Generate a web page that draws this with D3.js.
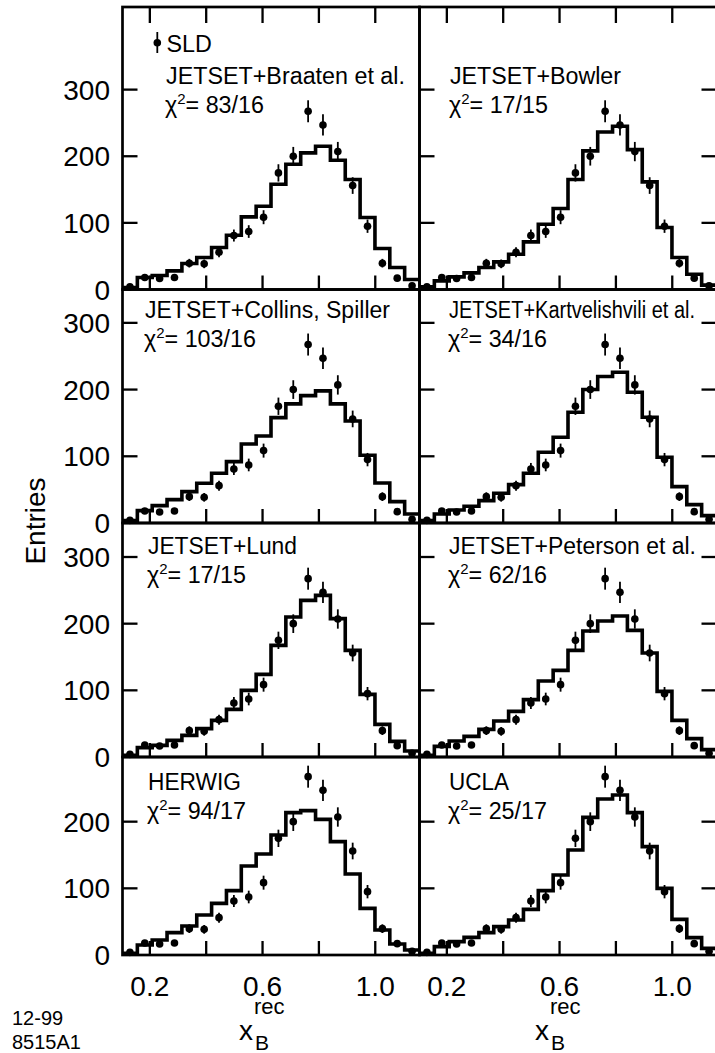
<!DOCTYPE html>
<html><head><meta charset="utf-8">
<script src="https://cdn.jsdelivr.net/npm/d3@7"></script>
<style>body{margin:0;background:#fff}svg{display:block;font-family:"Liberation Sans",Arial,Helvetica,sans-serif}</style>
</head><body><svg id="c" width="715" height="1053"></svg>
<script>
// ---------- data ----------
const binEdges = [0.103, 0.1557, 0.2084, 0.2611, 0.3138, 0.3665, 0.4192, 0.4719, 0.5246, 0.5773, 0.630,
                  0.6827, 0.7354, 0.7881, 0.8408, 0.8935, 0.9462, 0.9989, 1.0516, 1.1043, 1.157];
const sldValues = [4, 18, 16.5, 18, 39.5, 38.5, 56, 81, 87, 108.5, 175, 200, 267.5, 247, 207, 156, 95, 39.5, 17, 5.5];
const sldErrors = [2, 4.5, 4, 4.5, 6.5, 6.5, 7.5, 9, 9.5, 10.5, 13, 14, 16.5, 16, 14.5, 12.5, 10, 6.5, 4, 2.5];

const mcBraaten       = [3, 18, 21, 28, 39, 48, 63, 81.5, 109, 125, 158, 188, 205, 215, 194, 165, 108, 61.5, 33, 15];
const mcBowler        = [4, 13, 19, 25, 33, 41.5, 53, 71.5, 98, 121.5, 165, 208, 236.5, 245, 210, 161.5, 93, 48, 23, 6.5];
const mcCollins       = [3.5, 18.5, 26, 35, 47, 59.5, 74.5, 92, 118.5, 130.5, 158, 178.5, 191, 198, 178.5, 153, 101.5, 60, 32, 13.5];
const mcKartvelishvili= [3.5, 13.5, 19.5, 25, 33.5, 44.5, 57.5, 74.5, 106, 128.5, 166, 200, 219.5, 226, 196, 158.5, 98.5, 54.5, 27.5, 11];
const mcLund          = [2.5, 14, 17.5, 25, 32.5, 42.5, 55, 71.5, 100, 124, 167.5, 210, 235, 242.5, 207.5, 160, 94, 49, 23.5, 9];
const mcPeterson      = [2.5, 16, 24, 31, 41.5, 54, 68.5, 86, 114, 130, 160, 189, 204, 211.5, 190, 156, 98.5, 55, 27.5, 11];
const mcHerwig        = [2.5, 15, 22.5, 33.5, 43.5, 60, 77.5, 96.5, 133.5, 151.5, 180, 213.5, 216.5, 203.5, 170, 121.5, 70, 37.5, 16.5, 7.5];
const mcUcla          = [2.5, 12.5, 20, 26.5, 33.5, 42.5, 52.5, 68.5, 96.5, 120, 157.5, 206.5, 234, 240, 213.5, 162.5, 100, 53.5, 26, 10];

const modelNames = ["JETSET+Braaten et al.", "JETSET+Bowler", "JETSET+Collins, Spiller", "JETSET+Kartvelishvili et al.",
                    "JETSET+Lund", "JETSET+Peterson et al.", "HERWIG", "UCLA"];
const chi2Values = ["83/16", "17/15", "103/16", "34/16", "17/15", "62/16", "94/17", "25/17"];
const mcSeries = [mcBraaten, mcBowler, mcCollins, mcKartvelishvili, mcLund, mcPeterson, mcHerwig, mcUcla];

const xTicks = [0.2, 0.4, 0.6, 0.8, 1.0];
const xTickLabels = [0.2, 0.6, 1.0];
const yTicks = [100, 200, 300];
const yTickLabels = [0, 100, 200, 300];
const rowYMax = [424, 350, 351, 297];

// ---------- layout ----------
const colX = [[122.5, 419.5], [419.5, 716.5]];
const rowY = [[289.5, 7], [523, 289.5], [757, 523], [955, 757]];
const labelX = [[166, 145, 148, 148], [450, 449, 449, 449]];
const labelY = [84, 318, 554, 790];
const labelWidth = [239, 171, 245, 246, 149, 247, 93, 60];
const lineGap = 29;
const FW = 2.7;

const svg = d3.select("#c");

function panel(i) {
  const col = i % 2, row = Math.floor(i / 2);
  const x = d3.scaleLinear().domain([binEdges[0], binEdges[binEdges.length - 1]]).range(colX[col]);
  const y = d3.scaleLinear().domain([0, rowYMax[row]]).range(rowY[row]);
  const g = svg.append("g");
  const [x0, x1] = colX[col];
  const [yb, yt] = rowY[row];

  g.append("rect").attr("x", x0).attr("y", yt).attr("width", x1 - x0).attr("height", yb - yt)
    .attr("fill", "none").attr("stroke", "#000").attr("stroke-width", FW);

  g.selectAll(".xt").data(xTicks).enter().append("line")
    .attr("x1", d => x(d)).attr("x2", d => x(d)).attr("y1", yb).attr("y2", yb - 14)
    .attr("stroke", "#000").attr("stroke-width", 2.3);
  if (row === 0) {
    g.selectAll(".xtt").data(xTicks).enter().append("line")
      .attr("x1", d => x(d)).attr("x2", d => x(d)).attr("y1", yt).attr("y2", yt + 16)
      .attr("stroke", "#000").attr("stroke-width", 2.3);
  }
  const ytk = yTicks.filter(t => t < rowYMax[row] - 2);
  g.selectAll(".yt").data(ytk).enter().append("line")
    .attr("x1", x0).attr("x2", x0 + 15).attr("y1", d => y(d)).attr("y2", d => y(d))
    .attr("stroke", "#000").attr("stroke-width", 2.3);
  if (col === 1) {
    g.selectAll(".ytr").data(ytk).enter().append("line")
      .attr("x1", x1).attr("x2", x1 - 15).attr("y1", d => y(d)).attr("y2", d => y(d))
      .attr("stroke", "#000").attr("stroke-width", 2.3);
  }
  if (col === 0) {
    g.selectAll(".yl").data(yTickLabels.filter(t => t < rowYMax[row] - 2)).enter().append("text")
      .attr("x", 110).attr("y", d => y(d)).attr("dy", "0.36em")
      .attr("text-anchor", "end").attr("font-size", 28).text(d => d);
  }
  if (row === 3) {
    g.selectAll(".xl").data(xTickLabels).enter().append("text")
      .attr("x", d => x(d)).attr("y", 996).attr("text-anchor", "middle")
      .attr("font-size", 28).text(d => d.toFixed(1));
  }

  // MC histogram
  const mc = mcSeries[i];
  const pts = [];
  mc.forEach((v, k) => { pts.push([binEdges[k], v]); pts.push([binEdges[k + 1], v]); });
  g.append("path").datum(pts)
    .attr("d", d3.line().x(d => x(d[0])).y(d => y(d[1])))
    .attr("fill", "none").attr("stroke", "#000").attr("stroke-width", 3.6)
    .attr("stroke-linejoin", "miter");

  // SLD points
  const centers = sldValues.map((v, k) => ({ c: (binEdges[k] + binEdges[k + 1]) / 2, v, e: sldErrors[k] }));
  g.selectAll(".eb").data(centers).enter().append("line")
    .attr("x1", d => x(d.c)).attr("x2", d => x(d.c))
    .attr("y1", d => y(Math.max(0, d.v - d.e))).attr("y2", d => y(d.v + d.e))
    .attr("stroke", "#000").attr("stroke-width", 1.8);
  g.selectAll(".pt").data(centers).enter().append("circle")
    .attr("cx", d => x(d.c)).attr("cy", d => y(d.v)).attr("r", 3.8).attr("fill", "#000");

  // labels
  const lx = labelX[col][row], ly = labelY[row];
  g.append("text").attr("x", lx).attr("y", ly).attr("font-size", 23.3)
    .attr("textLength", labelWidth[i]).attr("lengthAdjust", "spacingAndGlyphs").text(modelNames[i]);
  const t = g.append("text").attr("x", lx - 1).attr("y", ly + lineGap).attr("font-size", 23.3);
  t.append("tspan").text("\u03C7");
  t.append("tspan").attr("font-size", 15).attr("dy", -9).text("2");
  t.append("tspan").attr("dy", 9).text("= " + chi2Values[i]);
}

for (let i = 0; i < 8; i++) panel(i);

// SLD legend
svg.append("line").attr("x1", 157.3).attr("x2", 157.3).attr("y1", 32).attr("y2", 53)
  .attr("stroke", "#000").attr("stroke-width", 1.8);
svg.append("circle").attr("cx", 157.3).attr("cy", 42.7).attr("r", 3.8).attr("fill", "#000");
svg.append("text").attr("x", 166.5).attr("y", 52).attr("font-size", 23.3).text("SLD");

// axis titles
svg.append("text").attr("transform", "translate(45,521) rotate(-90)")
  .attr("text-anchor", "middle").attr("font-size", 28).text("Entries");

[[239, 254, 255], [535, 550, 551]].forEach(p => {
  svg.append("text").attr("x", p[0]).attr("y", 1040).attr("font-size", 28).text("x");
  svg.append("text").attr("x", p[1]).attr("y", 1014).attr("font-size", 22).text("rec");
  svg.append("text").attr("x", p[2]).attr("y", 1050).attr("font-size", 21).text("B");
});

svg.append("text").attr("x", 12).attr("y", 1025).attr("font-size", 20).text("12-99");
svg.append("text").attr("x", 12).attr("y", 1049).attr("font-size", 20).text("8515A1");
</script>
</body></html>
